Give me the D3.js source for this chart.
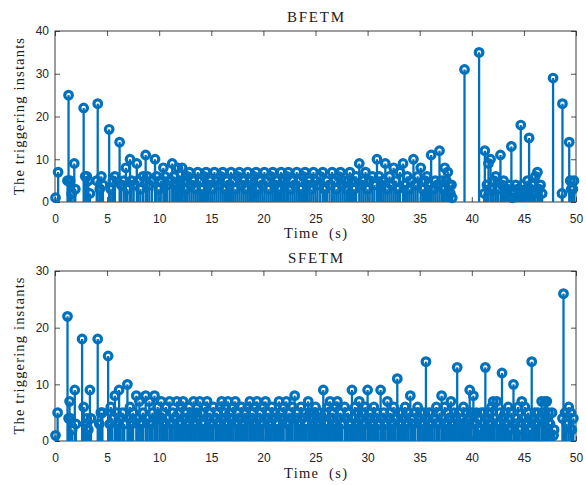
<!DOCTYPE html>
<html><head><meta charset="utf-8">
<script src="https://cdn.jsdelivr.net/npm/d3@7"></script>
<style>body{margin:0;background:#fff}svg{display:block}</style>
</head><body>
<svg id="chart" width="586" height="485"></svg>
<script>
// ---------- tick labels / texts ----------
const xTicks = [0,5,10,15,20,25,30,35,40,45,50];
const bfYTicks = [0,10,20,30,40];
const sfYTicks = [0,10,20,30];
const bfTitle = "BFETM";
const sfTitle = "SFETM";
const xLabelText = "Time\u00a0\u00a0(s)";
const yLabelText = "The triggering instants";

// ---------- BFETM : [time (s), triggering instants] ----------
const bfEarly = [[0.05,1],[0.3,7],[1.2,5],[1.3,25],[1.45,5],[1.6,2],[1.85,9],[1.95,3],[2.75,22],[2.9,6],
[3.05,6],[3.2,5],[3.35,2],[4.0,5],[4.1,23],[4.3,3],[4.45,6],[4.6,4],[5.2,17],[5.35,3],
[5.55,5],[5.75,6],[6.2,14],[6.35,4],[6.6,5],[6.8,8],[6.95,3],[7.2,10],[7.35,5],[7.55,4],
[7.85,9],[8.0,5],[8.2,3],[8.45,6],[8.7,11],[8.85,6],[9.05,4],[9.3,5],[9.6,10],[9.75,6],
[9.95,3],[10.15,5],[10.4,8],[10.55,6],[10.75,4],[11.0,5],[11.25,9],[11.4,6],[11.6,4],[11.8,8],[11.95,5]];
const bfMiddle = [[12.05,4],[12.2,8],[12.4,5],[12.55,3],[12.7,6],[12.9,7],[13.1,4],[13.3,5],[13.5,3],[13.7,7],
[13.9,5],[14.1,3],[14.3,6],[14.5,7],[14.7,4],[14.9,5],[15.1,3],[15.3,7],[15.5,5],[15.7,4],
[15.9,6],[16.1,7],[16.3,3],[16.5,5],[16.7,4],[16.9,7],[17.1,5],[17.3,3],[17.5,6],[17.7,7],
[17.9,4],[18.1,5],[18.3,3],[18.5,7],[18.7,5],[18.9,4],[19.1,6],[19.3,7],[19.5,3],[19.7,5],
[19.9,4],[20.1,7],[20.3,5],[20.5,3],[20.7,6],[20.9,7],[21.1,4],[21.3,5],[21.5,3],[21.7,7],
[21.9,5],[22.05,4],[22.25,6],[22.4,7],[22.6,3],[22.8,5],[23.0,4],[23.2,7],[23.4,5],[23.6,3],
[23.8,6],[24.0,7],[24.2,4],[24.4,5],[24.6,3],[24.8,7],[25.0,5],[25.2,4],[25.45,6],[25.7,7],
[25.9,3],[26.1,5],[26.35,4],[26.6,7],[26.8,5],[27.0,3],[27.2,6],[27.4,7],[27.6,4],[27.8,5],
[28.0,3],[28.15,5]];
const bfLateMid = [[28.3,7],[28.5,5],[28.7,3],[28.9,6],[29.2,9],[29.4,4],[29.6,5],[29.8,7],[30.0,3],[30.2,5],
[30.45,6],[30.65,4],[30.9,10],[31.1,6],[31.3,4],[31.5,5],[31.7,9],[31.9,3],[32.1,6],[32.3,4],
[32.5,8],[32.7,5],[32.9,3],[33.1,7],[33.4,9],[33.6,4],[33.8,6],[34.0,3],[34.2,5],[34.4,10],
[34.6,4],[34.8,6],[35.1,8],[35.3,3],[35.5,5],[35.7,6],[35.9,4],[36.1,11],[36.3,3],[36.5,5],
[36.7,4],[36.9,12],[37.1,5],[37.25,3],[37.4,8],[37.55,5],[37.7,7],[37.85,4],[37.95,2],[38.05,4],[38.12,1]];
const bfEnd = [[39.3,31],[40.7,35],[41.2,2],[41.25,12],[41.45,4],[41.6,9],[41.8,10],[41.95,3],[42.1,5],[42.3,6],
[42.5,3],[42.75,11],[42.9,4],[43.05,5],[43.2,2],[43.4,3],[43.6,4],[43.8,13],[43.9,1],[44.05,2],
[44.2,4],[44.4,3],[44.55,2],[44.7,18],[44.85,4],[45.0,2],[45.2,3],[45.35,5],[45.5,15],[45.65,3],
[45.8,4],[45.95,2],[46.1,6],[46.3,7],[46.45,3],[46.6,4],[46.75,2],[47.8,29],[48.65,2],[48.7,23],
[49.35,14],[49.45,5],[49.55,3],[49.7,3],[49.8,5]];

// ---------- SFETM : [time (s), triggering instants] ----------
const sfEarly = [[0.05,1],[0.25,5],[1.2,22],[1.3,4],[1.4,7],[1.5,4],[1.65,2],[1.9,9],[2.0,3],[2.6,18],
[2.75,6],[2.9,3],[3.05,4],[3.2,2],[3.35,9],[3.45,4],[4.1,18],[4.25,3],[4.4,5],[4.55,5],
[5.1,15],[5.25,3],[5.35,6],[5.5,4],[5.75,8],[5.9,5],[6.05,3],[6.15,9],[6.3,4],[6.5,5],
[6.65,3],[6.95,10],[7.1,4],[7.2,6],[7.35,3],[7.5,5],[7.8,8],[7.95,4],[8.1,7],[8.25,3],
[8.45,5],[8.7,8],[8.85,4],[9.05,7],[9.2,3],[9.35,5],[9.55,8],[9.7,4],[9.85,6]];
const sfMiddleA = [[10.05,4],[10.2,7],[10.35,5],[10.5,3],[10.65,6],[10.8,4],[11.0,7],[11.15,3],[11.3,5],[11.5,4],
[11.7,7],[11.85,5],[12.0,3],[12.15,6],[12.3,7],[12.45,4],[12.6,5],[12.75,3],[12.9,6],[13.05,4],
[13.15,5],[13.3,7],[13.45,3],[13.6,5],[13.75,4],[13.9,7],[14.05,5],[14.2,3],[14.4,6],[14.6,7],
[14.75,4],[14.9,5],[15.05,3],[15.2,6],[15.4,4],[15.55,5],[15.7,3],[15.85,6],[16.0,7],[16.15,4],
[16.3,5],[16.45,3],[16.6,7],[16.75,5],[16.9,4],[17.1,6],[17.3,7],[17.45,3],[17.6,5],[17.75,4],
[17.9,6],[18.05,3],[18.2,5],[18.35,4],[18.5,6],[18.7,7],[18.85,4],[19.0,5],[19.15,3],[19.25,6],
[19.4,7],[19.55,4],[19.7,5],[19.85,3],[20.0,6],[20.2,7],[20.35,4],[20.5,5],[20.65,3],[20.8,6],
[20.95,4],[21.1,5],[21.3,3],[21.5,7],[21.65,5],[21.8,4],[21.95,6],[22.2,7],[22.35,3],[22.5,5],
[22.65,4],[22.8,6],[23.0,8],[23.15,4],[23.3,5],[23.45,3],[23.6,6],[23.75,4],[23.9,5],[24.1,3],
[24.3,7],[24.45,5],[24.6,4],[24.75,3],[24.85,5],[25.0,6],[25.15,4],[25.3,3],[25.45,5],[25.6,4],
[25.75,9],[25.9,5],[26.05,3],[26.2,6],[26.4,7],[26.55,4],[26.7,5],[26.85,3],[26.95,6],[27.1,7],
[27.25,4],[27.4,5],[27.55,3],[27.8,6],[27.95,4],[28.1,5],[28.3,3],[28.5,9],[28.65,4],[28.8,6],
[28.95,3]];
const sfMiddleB = [[29.05,5],[29.2,7],[29.35,4],[29.5,5],[29.65,3],[29.8,6],[30.0,9],[30.15,4],[30.3,5],[30.45,3],
[30.6,6],[30.75,4],[30.9,5],[31.05,3],[31.25,9],[31.4,4],[31.55,5],[31.7,3],[31.9,7],[32.05,4],
[32.2,5],[32.35,3],[32.5,6],[32.65,4],[32.85,11],[33.0,5],[33.15,3],[33.3,5],[33.45,4],[33.6,6],
[33.75,3],[33.9,5],[34.1,8],[34.25,4],[34.4,3],[34.55,5],[34.8,6],[34.95,4],[35.1,5],[35.25,3],
[35.4,5],[35.6,14],[35.75,4],[35.9,5],[36.05,3],[36.2,5],[36.4,4],[36.6,6],[36.75,3],[36.9,5],
[37.1,8],[37.25,4],[37.4,6],[37.55,3],[37.7,5],[37.85,4],[38.0,7],[38.15,3],[38.3,5],[38.45,4],
[38.6,13],[38.75,5],[38.9,3],[39.05,4],[39.2,6],[39.35,3],[39.5,5],[39.65,4],[39.8,9],[39.95,5],
[40.15,8],[40.3,3],[40.45,5],[40.6,4],[40.75,2],[40.9,5],[41.05,3],[41.15,5],[41.3,13],[41.45,4],
[41.6,5],[41.75,3],[41.9,6],[42.05,7],[42.2,4],[42.4,7],[42.55,3],[42.7,5],[42.9,12],[43.05,4],
[43.2,5],[43.35,3],[43.5,6],[43.65,2],[43.8,5],[44.0,10],[44.15,3],[44.3,4],[44.45,6],[44.6,2],
[44.8,7],[44.95,4],[45.1,6],[45.25,3],[45.4,5],[45.6,2],[45.75,14],[45.9,4],[46.05,5],[46.2,3],
[46.35,5],[46.5,4],[46.7,7],[46.85,5],[47.0,7],[47.1,4],[47.2,7],[47.35,5],[47.5,3],[47.7,5],
[47.85,1],[47.9,2]];
const sfEnd = [[48.7,4],[48.8,26],[48.95,5],[49.1,3],[49.3,6],[49.5,5],[49.6,2],[49.75,4]];

const bfData = [...bfEarly, ...bfMiddle, ...bfLateMid, ...bfEnd];
const sfData = [...sfEarly, ...sfMiddleA, ...sfMiddleB, ...sfEnd];

// ---------- drawing ----------
const STEM = "#0072BD", AXC = "#262626";
const svg = d3.select("#chart");

function panel(cfg) {
  const left = 55, right = 576;
  const x = d3.scaleLinear().domain([0, 50]).range([left, right]);
  const y = d3.scaleLinear().domain([0, cfg.yMax]).range([cfg.bottom, cfg.top]);
  const g = svg.append("g");

  const axB = g.append("g").attr("transform", `translate(0,${cfg.bottom})`)
    .call(d3.axisBottom(x).tickValues(xTicks).tickSize(-5).tickSizeOuter(0).tickPadding(12.5));
  const axT = g.append("g").attr("transform", `translate(0,${cfg.top})`)
    .call(d3.axisTop(x).tickValues(xTicks).tickSize(-5).tickSizeOuter(0).tickFormat(""));
  const axL = g.append("g").attr("transform", `translate(${left},0)`)
    .call(d3.axisLeft(y).tickValues(cfg.yTicks).tickSize(-5).tickSizeOuter(0).tickPadding(6));
  const axR = g.append("g").attr("transform", `translate(${right},0)`)
    .call(d3.axisRight(y).tickValues(cfg.yTicks).tickSize(-5).tickSizeOuter(0).tickFormat(""));
  [axB, axT, axL, axR].forEach(a => {
    a.select(".domain").remove();
    a.selectAll(".tick line").attr("stroke", AXC).attr("stroke-width", 0.8);
    a.selectAll(".tick text").attr("fill", AXC)
      .style("font-family", "'Liberation Sans', Arial, Helvetica, sans-serif").style("font-size", "12px");
  });
  g.append("rect").attr("x", left).attr("y", cfg.top)
    .attr("width", right - left).attr("height", cfg.bottom - cfg.top)
    .attr("fill", "none").attr("stroke", AXC).attr("stroke-width", 0.9);

  g.append("g").selectAll("line").data(cfg.data).join("line")
    .attr("x1", d => x(d[0])).attr("x2", d => x(d[0]))
    .attr("y1", y(0)).attr("y2", d => y(d[1]))
    .attr("stroke", STEM).attr("stroke-width", 2.3);
  g.append("g").selectAll("circle").data(cfg.data).join("circle")
    .attr("cx", d => x(d[0])).attr("cy", d => y(d[1])).attr("r", 3.8)
    .attr("fill", "none").attr("stroke", STEM).attr("stroke-width", 3.2);

  const serif = "'Liberation Serif', 'Times New Roman', serif";
  const txt = (sel) => sel.attr("fill", "#1a1a1a").style("font-family", serif)
    .style("font-weight", "normal").attr("text-anchor", "middle").attr("lengthAdjust", "spacing");
  g.append("text").call(txt).attr("x", (left + right) / 2).attr("y", cfg.titleY)
    .attr("textLength", cfg.titleW).style("font-size", "15px").text(cfg.title);
  g.append("text").call(txt).attr("x", (left + right) / 2).attr("y", cfg.xLabelY)
    .attr("textLength", 63).style("font-size", "14.5px").text(xLabelText);
  g.append("text").call(txt).attr("transform", `translate(24,${(cfg.top + cfg.bottom) / 2}) rotate(-90)`)
    .attr("textLength", 157).style("font-size", "14.5px").text(yLabelText);
}

panel({data: bfData, top: 31, bottom: 202, yMax: 40, yTicks: bfYTicks,
       title: bfTitle, titleY: 21.5, titleW: 57, xLabelY: 238});
panel({data: sfData, top: 271, bottom: 441, yMax: 30, yTicks: sfYTicks,
       title: sfTitle, titleY: 262.5, titleW: 55, xLabelY: 478});
</script>
</body></html>
